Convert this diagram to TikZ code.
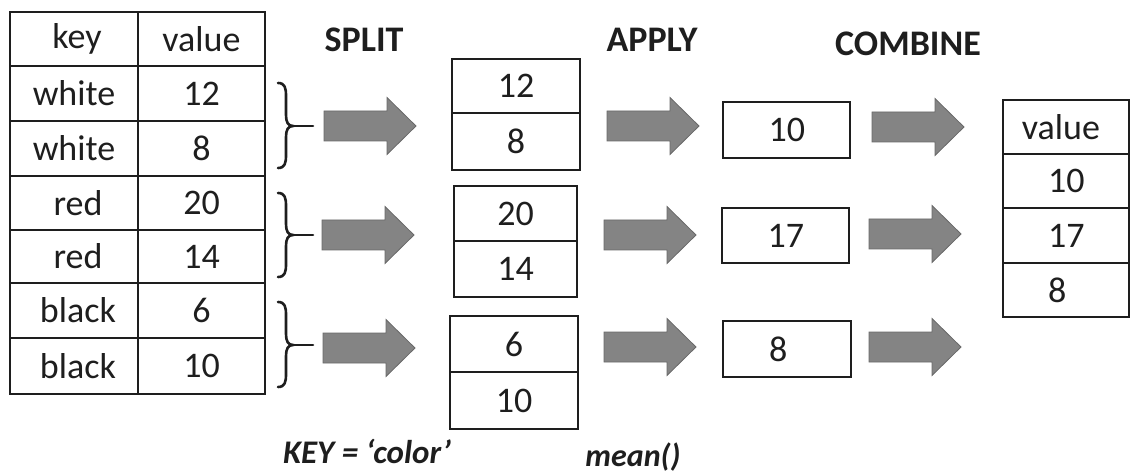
\documentclass[tikz,border=0pt]{standalone}
\usepackage{fontspec}
\setmainfont{Carlito}
\definecolor{arrowfill}{RGB}{132,132,132}
\definecolor{arrowedge}{RGB}{105,105,105}
\definecolor{ink}{RGB}{30,30,30}
\tikzset{
  cell/.style={draw=ink, line width=2.9pt, inner sep=0pt, text=ink,
    font=\fontsize{36}{40}\selectfont},
  lcell/.style={cell, text width=36pt, align=left},
  title/.style={text=ink, font=\fontsize{36}{40}\selectfont\bfseries},
  note/.style={text=ink, font=\fontsize{33}{38}\selectfont\bfseries\itshape},
  bracestyle/.style={draw=ink, line width=2.6pt, line cap=round},
  blockarrow/.style={fill=arrowfill, draw=arrowedge, line width=0.8pt},
}
\newcommand\blockarr[3]{%
  \coordinate (#1) at (#2,#3);
  \path[blockarrow, shift={(#2,#3)}] (-46,-15) -- (17,-15) -- (17,-28.5) -- (46,0)
     -- (17,28.5) -- (17,15) -- (-46,15) -- cycle;}
\newcommand\curlybrace[4]{% name, top y, tip y, bottom y
  \draw[bracestyle] (278,#2) .. controls (285,#2) and (286,#2+5) .. (286,#2+13)
     -- (286,#3-11) .. controls (286,#3-4) and (288,#3) .. (293,#3)
     .. controls (288,#3) and (286,#3+4) .. (286,#3+11)
     -- (286,#4-13) .. controls (286,#4-5) and (285,#4) .. (278,#4);
  \coordinate (#1) at (293,#3);
  \coordinate (#1e) at (313,#3);
  \draw[bracestyle] (#1) -- (#1e);}
\begin{document}
\begin{tikzpicture}[x=1pt,y=-1pt]
\useasboundingbox (0,0) rectangle (1130,473);

% left table
\node[cell, minimum width=128pt, minimum height=54pt] (kh) at (74,39) {\hspace*{6pt}key};
\node[cell, minimum width=127pt, minimum height=54pt] (vh) at (201.5,39) {value};
\node[cell, minimum width=128pt, minimum height=55pt] (k1) at (74,93.5) {white};
\node[cell, minimum width=127pt, minimum height=55pt] (v1) at (201.5,93.5) {12};
\node[cell, minimum width=128pt, minimum height=55pt] (k2) at (74,148.5) {white};
\node[cell, minimum width=127pt, minimum height=55pt] (v2) at (201.5,148.5) {8};
\node[cell, minimum width=128pt, minimum height=54pt] (k3) at (74,203) {\hspace*{8pt}red};
\node[cell, minimum width=127pt, minimum height=54pt] (v3) at (201.5,203) {20};
\node[cell, minimum width=128pt, minimum height=53pt] (k4) at (74,256.5) {\hspace*{8pt}red};
\node[cell, minimum width=127pt, minimum height=53pt] (v4) at (201.5,256.5) {14};
\node[cell, minimum width=128pt, minimum height=55pt] (k5) at (74,310.5) {\hspace*{8pt}black};
\node[cell, minimum width=127pt, minimum height=55pt] (v5) at (201.5,310.5) {6};
\node[cell, minimum width=128pt, minimum height=56pt] (k6) at (74,366) {\hspace*{8pt}black};
\node[cell, minimum width=127pt, minimum height=56pt] (v6) at (201.5,366) {10};

% titles
\node[title] (split) at (364,40) {SPLIT};
\node[title] (apply) at (652,40) {APPLY};
\node[title] (combine) at (908,44) {COMBINE};

% braces
\curlybrace{b1}{83}{126}{168}
\curlybrace{b2}{193}{235}{277}
\curlybrace{b3}{302}{345}{387}

% split arrows
\blockarr{s1}{370}{126}
\blockarr{s2}{368}{235}
\blockarr{s3}{369}{348}

% middle groups
\node[cell, minimum width=128pt, minimum height=54pt] (g1a) at (516,86) {12};
\node[cell, minimum width=128pt, minimum height=57pt] (g1b) at (516,141.5) {8};
\node[cell, minimum width=123pt, minimum height=55pt] (g2a) at (515.5,213.5) {20};
\node[cell, minimum width=123pt, minimum height=56pt] (g2b) at (515.5,269) {14};
\node[cell, minimum width=128pt, minimum height=56pt] (g3a) at (514,344) {6};
\node[cell, minimum width=128pt, minimum height=57pt] (g3b) at (514,400.5) {10};

% apply arrows
\blockarr{a1}{653}{126}
\blockarr{a2}{650}{235}
\blockarr{a3}{650}{347}

% apply results
\node[lcell, minimum width=127pt, minimum height=56pt] (r1) at (786.5,130) {10};
\node[lcell, minimum width=127pt, minimum height=55pt] (r2) at (785.5,235.5) {17};
\node[lcell, minimum width=128pt, minimum height=56pt] (r3) at (787,349) {8};

% combine arrows
\blockarr{c1}{918}{127}
\blockarr{c2}{915}{234}
\blockarr{c3}{915}{347}

% right table
\node[cell, minimum width=126pt, minimum height=54pt] (oh) at (1066,127) {\hspace*{-10pt}value};
\node[lcell, minimum width=126pt, minimum height=54pt] (o1) at (1066,181) {10};
\node[lcell, minimum width=126pt, minimum height=55pt] (o2) at (1066,235.5) {17};
\node[lcell, minimum width=126pt, minimum height=54pt] (o3) at (1066,290) {8};

% notes
\node[note, anchor=base] (key) at (367,463) {KEY = ‘color’};
\node[note, anchor=base, font=\fontsize{32}{36}\selectfont\bfseries\itshape] (mean) at (633,466) {mean()};
\end{tikzpicture}
\end{document}
